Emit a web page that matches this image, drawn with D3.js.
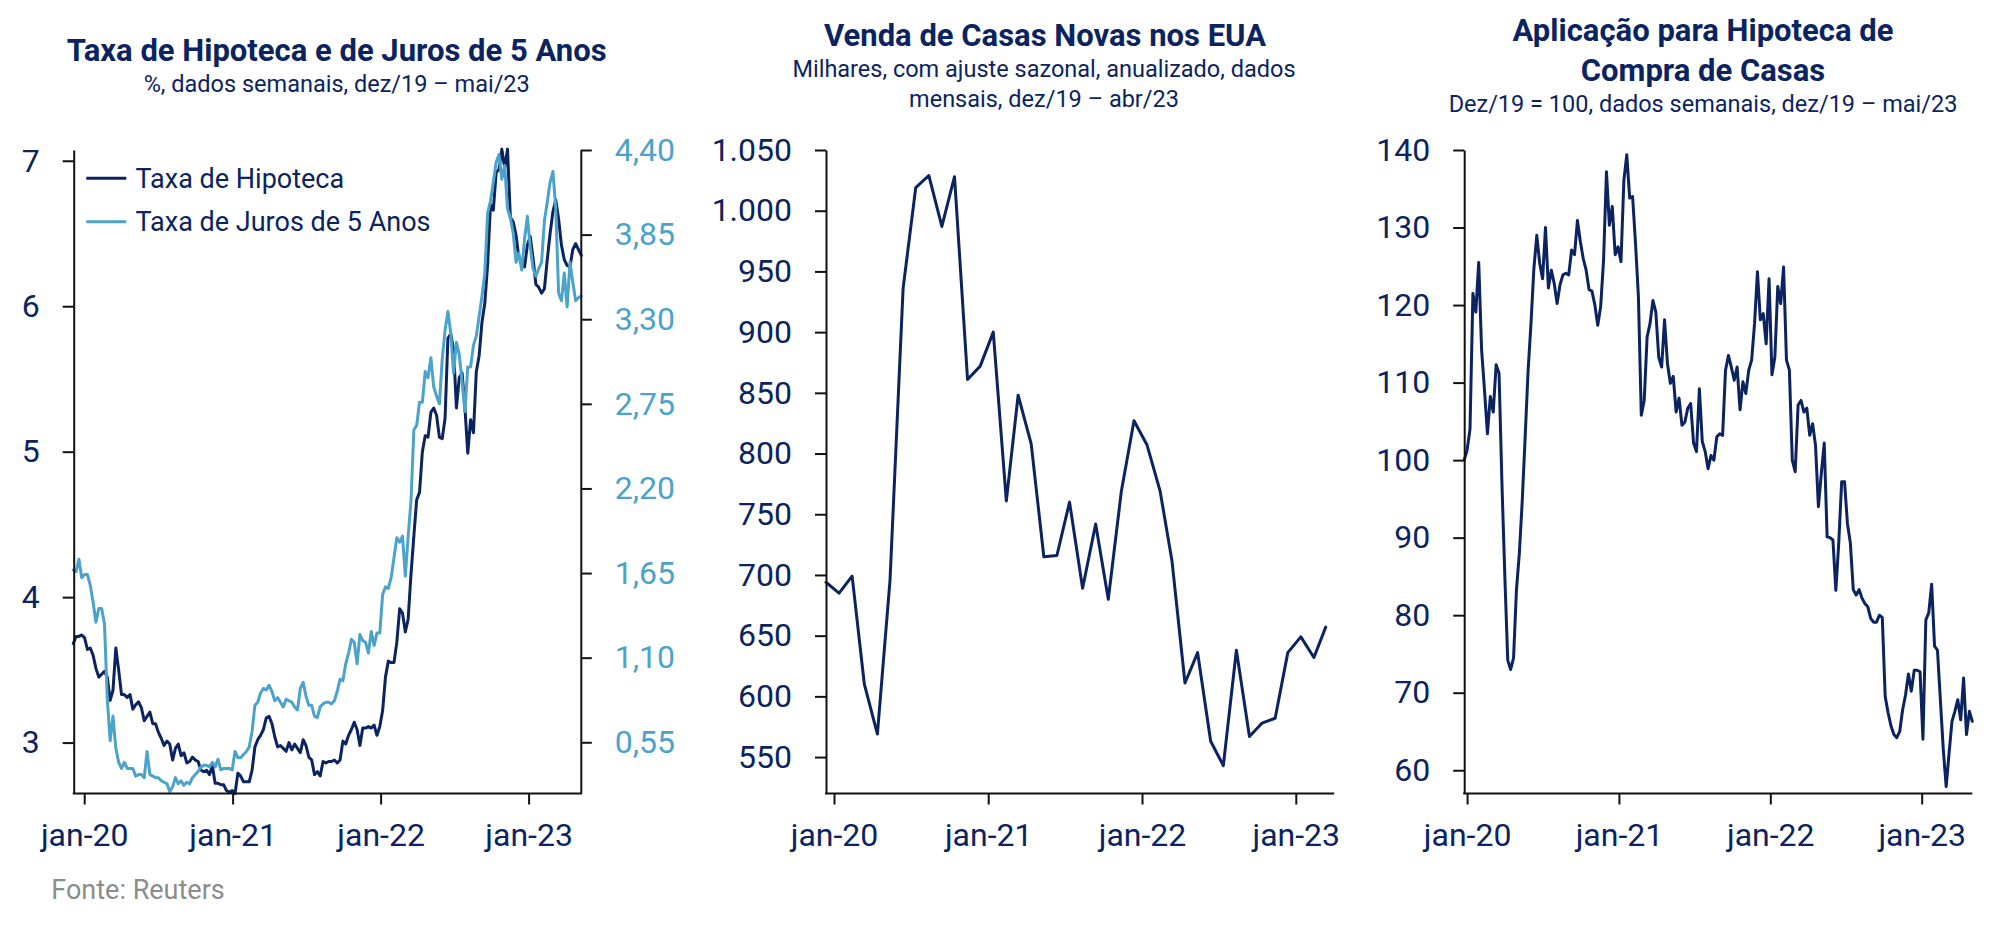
<!DOCTYPE html>
<html>
<head>
<meta charset="utf-8">
<script src="https://cdn.jsdelivr.net/npm/d3@7"></script>
<style>
  body { margin: 0; background: #ffffff; }
  svg text { font-family: Roboto, "Open Sans", "Liberation Sans", sans-serif; }
</style>
</head>
<body>
<svg id="chart" width="2000" height="927"></svg>
<script>
// ---------------- DATA ----------------
// Chart 1: weekly, starting 2019-12-05 (Thursdays)
const hipotecaStart = "2019-12-05";
const taxaHipoteca = [
  3.68,3.73,3.73,3.74,
  3.72,3.64,3.65,3.60,3.51,3.45,3.47,3.49,3.45,3.29,3.36,3.65,3.50,3.33,3.33,3.31,3.33,3.23,3.26,3.28,3.24,3.15,3.18,3.21,3.13,3.13,3.07,3.03,2.98,3.01,2.99,2.88,2.96,2.99,2.91,2.93,2.86,2.87,2.90,2.88,2.87,2.81,2.80,2.81,2.78,2.84,2.72,2.72,2.71,2.71,2.67,2.66,2.67,
  2.65,2.79,2.77,2.73,2.73,2.73,2.81,2.97,3.02,3.05,3.09,3.17,3.18,3.13,3.04,2.97,2.98,2.96,2.94,3.00,2.95,2.99,2.96,2.93,3.02,2.98,2.90,2.88,2.78,2.80,2.77,2.87,2.86,2.87,2.87,2.88,2.86,2.88,3.01,2.99,3.05,3.09,3.14,3.09,2.98,3.10,3.10,3.11,3.10,3.12,3.05,3.11,
  3.22,3.45,3.56,3.55,3.55,3.69,3.92,3.89,3.76,3.85,4.16,4.42,4.67,4.72,5.00,5.11,5.10,5.27,5.30,5.25,5.10,5.09,5.23,5.78,5.81,5.70,5.30,5.51,5.54,5.30,4.99,5.22,5.13,5.55,5.66,5.89,6.02,6.29,6.70,6.66,6.92,6.94,7.08,6.95,7.08,6.61,6.58,6.49,6.33,6.31,6.27,6.42,
  6.48,6.33,6.15,6.13,6.09,6.12,6.32,6.50,6.65,6.73,6.60,6.42,6.32,6.28,6.27,6.39,6.43,6.39,6.35
];
const taxaJuros5 = [
  1.67,1.66,1.74,1.62,1.64,1.64,1.57,1.46,1.33,1.42,1.42,1.32,
  0.83,0.56,0.72,0.51,0.42,0.38,0.42,0.38,0.38,0.38,0.33,0.34,
  0.34,0.32,0.49,0.34,0.33,0.32,0.32,0.30,0.29,0.28,0.23,0.26,
  0.32,0.28,0.30,0.27,0.29,0.28,0.32,0.34,0.36,0.39,0.40,0.40,
  0.39,0.42,0.39,0.44,0.37,0.38,0.38,0.38,0.37,0.49,0.45,0.45,
  0.47,0.49,0.52,0.62,0.79,0.81,0.87,0.90,0.89,0.92,0.88,0.82,
  0.84,0.81,0.78,0.83,0.82,0.81,0.78,0.76,0.90,0.94,0.85,0.79,
  0.79,0.72,0.71,0.78,0.80,0.81,0.81,0.80,0.82,0.88,0.96,0.95,
  1.06,1.13,1.22,1.20,1.06,1.25,1.21,1.20,1.13,1.27,1.18,1.26,
  1.26,1.51,1.56,1.55,1.62,1.75,1.88,1.85,1.89,1.63,1.89,2.12,
  2.58,2.61,2.76,2.76,2.96,2.92,3.05,2.86,2.80,2.75,3.04,3.23,
  3.35,3.21,2.95,3.15,3.07,2.89,2.70,2.99,2.99,3.13,3.19,3.32,
  3.45,3.60,3.99,4.07,4.19,4.32,4.37,4.21,4.30,4.02,3.96,3.86,
  3.67,3.73,3.62,3.82,3.97,3.77,3.63,3.58,3.63,3.67,3.94,4.06,
  4.19,4.26,4.02,3.47,3.42,3.60,3.38,3.67,3.54,3.42,3.44,3.45
];
const leftTicks1 = [3, 4, 5, 6, 7];
const rightTicks1 = [0.55, 1.10, 1.65, 2.20, 2.75, 3.30, 3.85, 4.40];

// Chart 2: monthly, dez/19 ...
const vendasStart = "2019-12-13";
const vendasCasas = [694,685,699,610,569,696,936,1019,1029,987,1028,861,872,900,761,848,808,715,716,760,689,742,680,769,827,807,769,712,611,636,563,543,638,567,578,582,636,649,632,657];
const ticks2 = [550,600,650,700,750,800,850,900,950,1000,1050];

// Chart 3: weekly, starting 2019-12-25
const aplicStart = "2019-12-25";
const aplicacao = [
  100,101.3,104,121.5,119.1,125.5,114.2,109,103.4,108.2,
  106.2,112.3,111.2,97,85,74.2,73,74.5,83.3,88,
  94.8,103,111.5,117.6,124.7,129,125.4,123.4,130,122.2,
  124.5,122.8,120.2,122.6,123.9,124.1,123.9,127.1,126.5,130.9,
  128.2,126,124.5,122,121.8,120,117.4,119.8,125.8,137.2,
  130.3,132.7,126.5,127.5,125.6,136.1,139.4,133.8,134,128,
  121.1,105.8,107.7,115.9,117.6,120.6,119.1,113.3,112,118.1,
  112.5,109.9,110.8,106.2,108,104.5,104.9,106.7,107.3,102.2,
  101.1,109.2,102.4,101.1,98.9,100.6,100,103,103.4,103.2,
  111.6,113.5,112,110.3,112,106.5,110.1,108.6,111.6,112.9,
  117.6,124.3,118.1,118.9,115,123.4,111,113.3,122.4,120.2,
  124.9,112.9,111.6,100,98.5,107.1,107.7,106.2,106.7,103.2,
  104.7,101.9,94,98.3,102.2,90.1,90,89.7,83.2,89.3,
  97.2,97.2,91.8,89.3,83.3,82.6,83.3,82.2,81.5,81.1,
  79.6,79.1,79.1,80,79.7,69.5,67.4,65.7,64.6,64.2,
  65,67.8,69.7,72.4,70.2,72.9,72.9,72.7,64,79.4,
  80.3,84,76,75.5,69.1,62.7,57.9,62.2,66.3,67.6,
  69.1,66.5,71.9,64.6,67.6,66.3
];
const ticks3 = [60,70,80,90,100,110,120,130,140];

const xTickDates = ["2020-01-01","2021-01-01","2022-01-01","2023-01-01"];
const xTickLabels = ["jan-20","jan-21","jan-22","jan-23"];

// ---------------- STYLE ----------------
const NAVY = "#0b2461";
const LIGHT = "#4ba3cb";
const AXIS = "#111111";
const GRAY = "#8c8c8c";
const FONT = 'Roboto, "Open Sans", "Liberation Sans", sans-serif';
const TICK_FS = 32;

const parse = d3.utcParse("%Y-%m-%d");
const tickDates = xTickDates.map(parse);
const br = d3.formatLocale({decimal: ",", thousands: ".", grouping: [3], currency: ["R$", ""]});

const svg = d3.select("#chart");

function weekly(start, values) {
  const s = parse(start);
  return values.map((v, i) => ({date: d3.utcDay.offset(s, 7 * i), v}));
}
function monthly(start, values) {
  const s = parse(start);
  return values.map((v, i) => ({date: d3.utcMonth.offset(s, i), v}));
}

function xAxis(scale, x0, x1, yb) {
  const ax = d3.axisBottom(scale).tickValues(tickDates)
    .tickFormat((d, i) => xTickLabels[i]).tickSize(11).tickPadding(19).tickSizeOuter(0);
  const g = svg.append("g").attr("transform", `translate(0,${yb})`).call(ax);
  g.select(".domain").remove();
  g.selectAll(".tick line").attr("stroke", AXIS).attr("stroke-width", 2);
  g.selectAll(".tick text").attr("fill", NAVY).attr("font-size", TICK_FS).attr("font-family", FONT);
  g.append("line").attr("x1", x0 - 1).attr("x2", x1 + 1).attr("y1", 0).attr("y2", 0)
    .attr("stroke", AXIS).attr("stroke-width", 2);
}

function yAxis(scale, xPos, ticks, fmt, color, right) {
  const ax = (right ? d3.axisRight(scale) : d3.axisLeft(scale))
    .tickValues(ticks).tickFormat(fmt).tickSize(11).tickPadding(23).tickSizeOuter(0);
  const g = svg.append("g").attr("transform", `translate(${xPos},0)`).call(ax);
  g.select(".domain").attr("stroke", AXIS).attr("stroke-width", 2);
  g.selectAll(".tick line").attr("stroke", AXIS).attr("stroke-width", 2);
  g.selectAll(".tick text").attr("fill", color).attr("font-size", TICK_FS).attr("font-family", FONT);
}

function addLine(data, x, y, color) {
  svg.append("path").datum(data)
    .attr("fill", "none").attr("stroke", color).attr("stroke-width", 3)
    .attr("stroke-linejoin", "round").attr("stroke-linecap", "round")
    .attr("d", d3.line().x(d => x(d.date)).y(d => y(d.v)));
}

function title(lines, cx, ys, size, weight) {
  lines.forEach((t, i) => {
    svg.append("text").attr("x", cx).attr("y", ys[i]).attr("text-anchor", "middle")
      .attr("fill", NAVY).attr("font-size", size).attr("font-weight", weight).text(t);
  });
}

const TOP = 150, BOT = 793.5;
const TITLE_FS = 31, SUB_FS = 23.5;

// ---------------- CHART 1 ----------------
{
  const x0 = 73.7, x1 = 580.8;
  const x = d3.scaleTime().domain([tickDates[0], tickDates[3]]).range([84.2, 528.6]);
  const yL = d3.scaleLinear().domain([2.65, 7.074]).range([BOT, TOP]);
  const yR = d3.scaleLinear().domain([0.217, 4.40]).range([BOT, TOP]);

  addLine(weekly(hipotecaStart, taxaHipoteca), x, yL, NAVY);
  addLine(weekly(hipotecaStart, taxaJuros5), x, yR, LIGHT);

  yAxis(yL, x0, leftTicks1, d3.format("d"), NAVY, false);
  yAxis(yR, x1, rightTicks1, br.format(".2f"), LIGHT, true);
  xAxis(x, x0, x1, BOT);

  title(["Taxa de Hipoteca e de Juros de 5 Anos"], 336.7, [61], TITLE_FS, 700);
  title(["%, dados semanais, dez/19 – mai/23"], 336.7, [92], SUB_FS, 400);

  const leg = [["Taxa de Hipoteca", NAVY, 178.3], ["Taxa de Juros de 5 Anos", LIGHT, 221.7]];
  leg.forEach(([t, c, yy]) => {
    svg.append("line").attr("x1", 86.3).attr("x2", 126.3).attr("y1", yy).attr("y2", yy)
      .attr("stroke", c).attr("stroke-width", 3);
    svg.append("text").attr("x", 135.5).attr("y", yy).attr("dy", "0.35em")
      .attr("fill", NAVY).attr("font-size", 27).text(t);
  });

  svg.append("text").attr("x", 51.3).attr("y", 899).attr("fill", GRAY)
    .attr("font-size", 27).text("Fonte: Reuters");
}

// ---------------- CHART 2 ----------------
{
  const x0 = 826, x1 = 1333.2;
  const x = d3.scaleTime().domain([tickDates[0], tickDates[3]]).range([834, 1295.8]);
  const y = d3.scaleLinear().domain([520, 1050]).range([BOT, TOP]);
  addLine(monthly(vendasStart, vendasCasas), x, y, NAVY);
  yAxis(y, x0, ticks2, br.format(",d"), NAVY, false);
  xAxis(x, x0, x1, BOT);
  title(["Venda de Casas Novas nos EUA"], 1045, [45.7], TITLE_FS, 700);
  title(["Milhares, com ajuste sazonal, anualizado, dados", "mensais, dez/19 – abr/23"], 1044, [76.7, 107.3], SUB_FS, 400);
}

// ---------------- CHART 3 ----------------
{
  const x0 = 1464.2, x1 = 1971.3;
  const x = d3.scaleTime().domain([tickDates[0], tickDates[3]]).range([1467.1, 1921.7]);
  const y = d3.scaleLinear().domain([57, 140]).range([BOT, TOP]);
  addLine(weekly(aplicStart, aplicacao), x, y, NAVY);
  yAxis(y, x0, ticks3, d3.format("d"), NAVY, false);
  xAxis(x, x0, x1, BOT);
  title(["Aplicação para Hipoteca de", "Compra de Casas"], 1703, [40.7, 81], TITLE_FS, 700);
  title(["Dez/19 = 100, dados semanais, dez/19 – mai/23"], 1703, [111.7], SUB_FS, 400);
}
</script>
</body>
</html>
